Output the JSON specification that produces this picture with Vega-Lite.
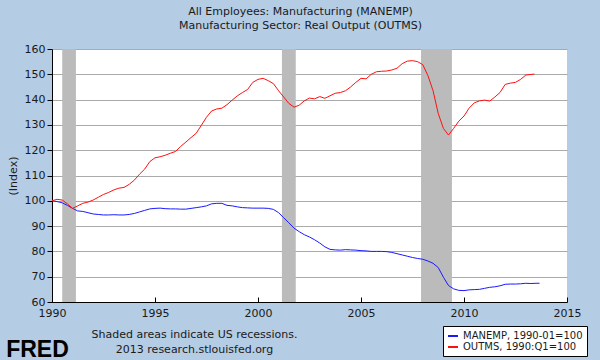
{
  "$schema": "https://vega.github.io/schema/vega-lite/v6.json",
  "width": 515,
  "height": 253,
  "autosize": {"type": "none"},
  "padding": {"left": 52, "top": 49, "right": 33, "bottom": 58},
  "background": "#b4cce4",
  "title": {
    "text": ["All Employees: Manufacturing (MANEMP)", "Manufacturing Sector: Real Output (OUTMS)"],
    "font": "DejaVu Sans", "fontSize": 11, "fontWeight": "normal", "color": "#1a1a1a",
    "anchor": "middle", "frame": "group", "dx": -9, "offset": 12, "lineHeight": 14
  },
  "config": {
    "view": {"fill": "white", "stroke": "#c8c8c8", "strokeWidth": 1},
    "axis": {"labelFont": "DejaVu Sans", "titleFont": "DejaVu Sans", "labelColor": "#1a1a1a", "titleColor": "#1a1a1a", "labelFontSize": 11, "titleFontSize": 11, "titleFontWeight": "normal"}
  },
  "datasets": {
    "recessions": [
      {"start": "1990-07-01", "end": "1991-03-01"},
      {"start": "2001-03-01", "end": "2001-11-01"},
      {"start": "2007-12-01", "end": "2009-06-01"}
    ],
    "series": [
      {"date": "1990-01-01", "series": "MANEMP", "value": 100.0},
      {"date": "1990-04-01", "series": "MANEMP", "value": 99.7},
      {"date": "1990-07-01", "series": "MANEMP", "value": 99.2},
      {"date": "1990-10-01", "series": "MANEMP", "value": 98.2},
      {"date": "1991-01-01", "series": "MANEMP", "value": 97.0},
      {"date": "1991-04-01", "series": "MANEMP", "value": 96.0},
      {"date": "1991-07-01", "series": "MANEMP", "value": 95.8},
      {"date": "1991-10-01", "series": "MANEMP", "value": 95.3},
      {"date": "1992-01-01", "series": "MANEMP", "value": 94.8},
      {"date": "1992-04-01", "series": "MANEMP", "value": 94.6},
      {"date": "1992-07-01", "series": "MANEMP", "value": 94.4},
      {"date": "1992-10-01", "series": "MANEMP", "value": 94.4},
      {"date": "1993-01-01", "series": "MANEMP", "value": 94.5},
      {"date": "1993-04-01", "series": "MANEMP", "value": 94.4},
      {"date": "1993-07-01", "series": "MANEMP", "value": 94.4},
      {"date": "1993-10-01", "series": "MANEMP", "value": 94.6},
      {"date": "1994-01-01", "series": "MANEMP", "value": 95.0},
      {"date": "1994-04-01", "series": "MANEMP", "value": 95.6},
      {"date": "1994-07-01", "series": "MANEMP", "value": 96.2},
      {"date": "1994-10-01", "series": "MANEMP", "value": 96.8},
      {"date": "1995-01-01", "series": "MANEMP", "value": 97.0},
      {"date": "1995-04-01", "series": "MANEMP", "value": 97.1},
      {"date": "1995-07-01", "series": "MANEMP", "value": 96.9},
      {"date": "1995-10-01", "series": "MANEMP", "value": 96.8},
      {"date": "1996-01-01", "series": "MANEMP", "value": 96.8},
      {"date": "1996-04-01", "series": "MANEMP", "value": 96.7},
      {"date": "1996-07-01", "series": "MANEMP", "value": 96.7},
      {"date": "1996-10-01", "series": "MANEMP", "value": 97.0},
      {"date": "1997-01-01", "series": "MANEMP", "value": 97.3},
      {"date": "1997-04-01", "series": "MANEMP", "value": 97.6},
      {"date": "1997-07-01", "series": "MANEMP", "value": 98.0},
      {"date": "1997-10-01", "series": "MANEMP", "value": 98.8},
      {"date": "1998-01-01", "series": "MANEMP", "value": 99.0},
      {"date": "1998-04-01", "series": "MANEMP", "value": 99.0},
      {"date": "1998-07-01", "series": "MANEMP", "value": 98.2},
      {"date": "1998-10-01", "series": "MANEMP", "value": 98.0},
      {"date": "1999-01-01", "series": "MANEMP", "value": 97.6},
      {"date": "1999-04-01", "series": "MANEMP", "value": 97.3},
      {"date": "1999-07-01", "series": "MANEMP", "value": 97.2},
      {"date": "1999-10-01", "series": "MANEMP", "value": 97.1},
      {"date": "2000-01-01", "series": "MANEMP", "value": 97.1},
      {"date": "2000-04-01", "series": "MANEMP", "value": 97.1},
      {"date": "2000-07-01", "series": "MANEMP", "value": 97.0},
      {"date": "2000-10-01", "series": "MANEMP", "value": 96.6},
      {"date": "2001-01-01", "series": "MANEMP", "value": 95.3},
      {"date": "2001-04-01", "series": "MANEMP", "value": 93.3},
      {"date": "2001-07-01", "series": "MANEMP", "value": 91.3},
      {"date": "2001-10-01", "series": "MANEMP", "value": 89.2},
      {"date": "2002-01-01", "series": "MANEMP", "value": 87.8},
      {"date": "2002-04-01", "series": "MANEMP", "value": 86.6},
      {"date": "2002-07-01", "series": "MANEMP", "value": 85.7},
      {"date": "2002-10-01", "series": "MANEMP", "value": 84.6},
      {"date": "2003-01-01", "series": "MANEMP", "value": 83.3},
      {"date": "2003-04-01", "series": "MANEMP", "value": 81.8},
      {"date": "2003-07-01", "series": "MANEMP", "value": 80.8},
      {"date": "2003-10-01", "series": "MANEMP", "value": 80.6},
      {"date": "2004-01-01", "series": "MANEMP", "value": 80.5},
      {"date": "2004-04-01", "series": "MANEMP", "value": 80.7},
      {"date": "2004-07-01", "series": "MANEMP", "value": 80.6},
      {"date": "2004-10-01", "series": "MANEMP", "value": 80.5},
      {"date": "2005-01-01", "series": "MANEMP", "value": 80.3},
      {"date": "2005-04-01", "series": "MANEMP", "value": 80.2},
      {"date": "2005-07-01", "series": "MANEMP", "value": 80.0},
      {"date": "2005-10-01", "series": "MANEMP", "value": 80.0},
      {"date": "2006-01-01", "series": "MANEMP", "value": 80.0},
      {"date": "2006-04-01", "series": "MANEMP", "value": 79.9},
      {"date": "2006-07-01", "series": "MANEMP", "value": 79.6},
      {"date": "2006-10-01", "series": "MANEMP", "value": 79.1},
      {"date": "2007-01-01", "series": "MANEMP", "value": 78.6},
      {"date": "2007-04-01", "series": "MANEMP", "value": 78.1},
      {"date": "2007-07-01", "series": "MANEMP", "value": 77.6},
      {"date": "2007-10-01", "series": "MANEMP", "value": 77.2},
      {"date": "2008-01-01", "series": "MANEMP", "value": 76.9},
      {"date": "2008-04-01", "series": "MANEMP", "value": 76.2},
      {"date": "2008-07-01", "series": "MANEMP", "value": 75.3},
      {"date": "2008-10-01", "series": "MANEMP", "value": 73.6},
      {"date": "2009-01-01", "series": "MANEMP", "value": 69.8},
      {"date": "2009-04-01", "series": "MANEMP", "value": 66.5},
      {"date": "2009-07-01", "series": "MANEMP", "value": 65.2},
      {"date": "2009-10-01", "series": "MANEMP", "value": 64.6},
      {"date": "2010-01-01", "series": "MANEMP", "value": 64.5},
      {"date": "2010-04-01", "series": "MANEMP", "value": 64.8},
      {"date": "2010-07-01", "series": "MANEMP", "value": 64.9},
      {"date": "2010-10-01", "series": "MANEMP", "value": 65.0},
      {"date": "2011-01-01", "series": "MANEMP", "value": 65.4},
      {"date": "2011-04-01", "series": "MANEMP", "value": 65.8},
      {"date": "2011-07-01", "series": "MANEMP", "value": 66.0},
      {"date": "2011-10-01", "series": "MANEMP", "value": 66.4},
      {"date": "2012-01-01", "series": "MANEMP", "value": 67.0},
      {"date": "2012-04-01", "series": "MANEMP", "value": 67.1},
      {"date": "2012-07-01", "series": "MANEMP", "value": 67.1},
      {"date": "2012-10-01", "series": "MANEMP", "value": 67.2},
      {"date": "2013-01-01", "series": "MANEMP", "value": 67.4},
      {"date": "2013-04-01", "series": "MANEMP", "value": 67.3},
      {"date": "2013-07-01", "series": "MANEMP", "value": 67.4},
      {"date": "2013-09-01", "series": "MANEMP", "value": 67.4},
      {"date": "1990-01-01", "series": "OUTMS", "value": 100.0},
      {"date": "1990-04-01", "series": "OUTMS", "value": 100.6},
      {"date": "1990-07-01", "series": "OUTMS", "value": 100.3},
      {"date": "1990-10-01", "series": "OUTMS", "value": 98.8},
      {"date": "1991-01-01", "series": "OUTMS", "value": 97.0},
      {"date": "1991-04-01", "series": "OUTMS", "value": 98.0},
      {"date": "1991-07-01", "series": "OUTMS", "value": 99.0},
      {"date": "1991-10-01", "series": "OUTMS", "value": 99.5},
      {"date": "1992-01-01", "series": "OUTMS", "value": 100.3},
      {"date": "1992-04-01", "series": "OUTMS", "value": 101.4},
      {"date": "1992-07-01", "series": "OUTMS", "value": 102.5},
      {"date": "1992-10-01", "series": "OUTMS", "value": 103.3},
      {"date": "1993-01-01", "series": "OUTMS", "value": 104.3},
      {"date": "1993-04-01", "series": "OUTMS", "value": 105.0},
      {"date": "1993-07-01", "series": "OUTMS", "value": 105.3},
      {"date": "1993-10-01", "series": "OUTMS", "value": 106.5},
      {"date": "1994-01-01", "series": "OUTMS", "value": 108.2},
      {"date": "1994-04-01", "series": "OUTMS", "value": 110.5},
      {"date": "1994-07-01", "series": "OUTMS", "value": 112.5},
      {"date": "1994-10-01", "series": "OUTMS", "value": 115.5},
      {"date": "1995-01-01", "series": "OUTMS", "value": 117.0},
      {"date": "1995-04-01", "series": "OUTMS", "value": 117.4},
      {"date": "1995-07-01", "series": "OUTMS", "value": 118.0},
      {"date": "1995-10-01", "series": "OUTMS", "value": 118.8},
      {"date": "1996-01-01", "series": "OUTMS", "value": 119.5},
      {"date": "1996-04-01", "series": "OUTMS", "value": 121.5},
      {"date": "1996-07-01", "series": "OUTMS", "value": 123.2},
      {"date": "1996-10-01", "series": "OUTMS", "value": 125.0},
      {"date": "1997-01-01", "series": "OUTMS", "value": 126.7},
      {"date": "1997-04-01", "series": "OUTMS", "value": 129.8},
      {"date": "1997-07-01", "series": "OUTMS", "value": 133.0},
      {"date": "1997-10-01", "series": "OUTMS", "value": 135.5},
      {"date": "1998-01-01", "series": "OUTMS", "value": 136.3},
      {"date": "1998-04-01", "series": "OUTMS", "value": 136.6},
      {"date": "1998-07-01", "series": "OUTMS", "value": 138.0},
      {"date": "1998-10-01", "series": "OUTMS", "value": 139.8},
      {"date": "1999-01-01", "series": "OUTMS", "value": 141.5},
      {"date": "1999-04-01", "series": "OUTMS", "value": 142.8},
      {"date": "1999-07-01", "series": "OUTMS", "value": 144.0},
      {"date": "1999-10-01", "series": "OUTMS", "value": 146.8},
      {"date": "2000-01-01", "series": "OUTMS", "value": 148.0},
      {"date": "2000-04-01", "series": "OUTMS", "value": 148.4},
      {"date": "2000-07-01", "series": "OUTMS", "value": 147.5},
      {"date": "2000-10-01", "series": "OUTMS", "value": 146.3},
      {"date": "2001-01-01", "series": "OUTMS", "value": 143.5},
      {"date": "2001-04-01", "series": "OUTMS", "value": 141.0},
      {"date": "2001-07-01", "series": "OUTMS", "value": 138.5},
      {"date": "2001-10-01", "series": "OUTMS", "value": 137.0},
      {"date": "2002-01-01", "series": "OUTMS", "value": 137.8},
      {"date": "2002-04-01", "series": "OUTMS", "value": 139.5},
      {"date": "2002-07-01", "series": "OUTMS", "value": 140.6},
      {"date": "2002-10-01", "series": "OUTMS", "value": 140.3},
      {"date": "2003-01-01", "series": "OUTMS", "value": 141.2},
      {"date": "2003-04-01", "series": "OUTMS", "value": 140.5},
      {"date": "2003-07-01", "series": "OUTMS", "value": 141.5},
      {"date": "2003-10-01", "series": "OUTMS", "value": 142.5},
      {"date": "2004-01-01", "series": "OUTMS", "value": 142.8},
      {"date": "2004-04-01", "series": "OUTMS", "value": 143.5},
      {"date": "2004-07-01", "series": "OUTMS", "value": 145.0},
      {"date": "2004-10-01", "series": "OUTMS", "value": 146.8},
      {"date": "2005-01-01", "series": "OUTMS", "value": 148.4},
      {"date": "2005-04-01", "series": "OUTMS", "value": 148.2},
      {"date": "2005-07-01", "series": "OUTMS", "value": 150.0},
      {"date": "2005-10-01", "series": "OUTMS", "value": 151.0},
      {"date": "2006-01-01", "series": "OUTMS", "value": 151.2},
      {"date": "2006-04-01", "series": "OUTMS", "value": 151.3},
      {"date": "2006-07-01", "series": "OUTMS", "value": 151.7},
      {"date": "2006-10-01", "series": "OUTMS", "value": 152.4},
      {"date": "2007-01-01", "series": "OUTMS", "value": 154.2},
      {"date": "2007-04-01", "series": "OUTMS", "value": 155.2},
      {"date": "2007-07-01", "series": "OUTMS", "value": 155.4},
      {"date": "2007-10-01", "series": "OUTMS", "value": 155.0},
      {"date": "2008-01-01", "series": "OUTMS", "value": 153.8},
      {"date": "2008-04-01", "series": "OUTMS", "value": 149.5},
      {"date": "2008-07-01", "series": "OUTMS", "value": 143.5},
      {"date": "2008-10-01", "series": "OUTMS", "value": 134.5},
      {"date": "2009-01-01", "series": "OUTMS", "value": 128.6},
      {"date": "2009-04-01", "series": "OUTMS", "value": 126.0},
      {"date": "2009-07-01", "series": "OUTMS", "value": 128.6},
      {"date": "2009-10-01", "series": "OUTMS", "value": 131.5},
      {"date": "2010-01-01", "series": "OUTMS", "value": 133.5},
      {"date": "2010-04-01", "series": "OUTMS", "value": 136.6},
      {"date": "2010-07-01", "series": "OUTMS", "value": 138.7},
      {"date": "2010-10-01", "series": "OUTMS", "value": 139.5},
      {"date": "2011-01-01", "series": "OUTMS", "value": 139.8},
      {"date": "2011-04-01", "series": "OUTMS", "value": 139.4},
      {"date": "2011-07-01", "series": "OUTMS", "value": 141.0},
      {"date": "2011-10-01", "series": "OUTMS", "value": 142.8},
      {"date": "2012-01-01", "series": "OUTMS", "value": 146.0},
      {"date": "2012-04-01", "series": "OUTMS", "value": 146.5},
      {"date": "2012-07-01", "series": "OUTMS", "value": 146.8},
      {"date": "2012-10-01", "series": "OUTMS", "value": 148.0},
      {"date": "2013-01-01", "series": "OUTMS", "value": 149.7},
      {"date": "2013-06-01", "series": "OUTMS", "value": 150.1}
    ]
  },
  "layer": [
    {
      "data": {"name": "recessions"},
      "mark": {"type": "rect", "color": "#bbbbbb"},
      "encoding": {
        "x": {
          "field": "start", "type": "temporal",
          "scale": {"domain": ["1990-01-01", "2015-01-01"]},
          "axis": {
            "orient": "bottom",
            "format": "%Y", "tickCount": {"interval": "year", "step": 5},
            "grid": false, "domainColor": "black", "tickColor": "black",
            "tickSize": -5, "labelPadding": 10, "labelFlush": false,
            "title": ["Shaded areas indicate US recessions.", "2013 research.stlouisfed.org"],
            "titleX": 142, "titleY": 26, "titleAlign": "center", "titleBaseline": "top",
            "titleLineHeight": 15
          }
        },
        "x2": {"field": "end"}
      }
    },
    {
      "data": {"name": "series"},
      "mark": {"type": "line", "strokeWidth": 1},
      "encoding": {
        "x": {
          "field": "date", "type": "temporal",
          "axis": {
            "orient": "bottom",
            "labels": false, "ticks": false, "domain": false, "grid": false,
            "title": "FRED", "titleFont": "Liberation Sans", "titleFontSize": 23,
            "titleFontWeight": "bold", "titleColor": "black",
            "titleX": -15, "titleY": 54, "titleAlign": "center", "titleBaseline": "alphabetic"
          }
        },
        "y": {
          "field": "value", "type": "quantitative",
          "scale": {"domain": [60, 160], "nice": false, "zero": false},
          "axis": {
            "values": [60, 70, 80, 90, 100, 110, 120, 130, 140, 150, 160],
            "title": "(Index)", "titlePadding": 6,
            "grid": true, "gridColor": "#aaaaaa", "gridWidth": 1,
            "domainColor": "black", "tickColor": "black", "tickSize": 5,
            "labelPadding": 2
          }
        },
        "color": {
          "field": "series", "type": "nominal",
          "scale": {"domain": ["MANEMP", "OUTMS"], "range": ["#1a1aff", "#ff1010"]},
          "legend": {
            "orient": "none", "legendX": 391, "legendY": 277, "title": null,
            "symbolType": "stroke", "symbolStrokeWidth": 2, "symbolSize": 100,
            "labelFont": "DejaVu Sans", "labelFontSize": 10, "labelColor": "#1a1a1a",
            "fillColor": "white", "strokeColor": "black", "padding": 4, "rowPadding": 0,
            "labelExpr": "datum.label == 'MANEMP' ? 'MANEMP, 1990-01=100' : 'OUTMS, 1990:Q1=100'"
          }
        }
      }
    }
  ],
  "resolve": {"axis": {"x": "independent"}}
}
